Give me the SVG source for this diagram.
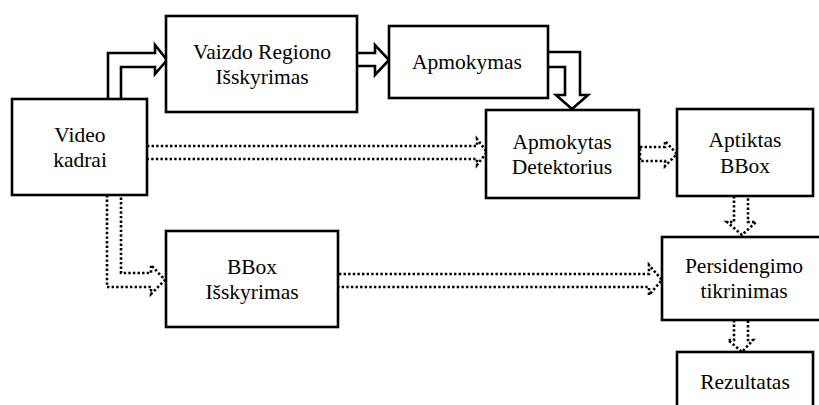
<svg xmlns="http://www.w3.org/2000/svg" width="819" height="405" viewBox="0 0 819 405">
  <style>
    .box { fill: #fff; stroke: #000; stroke-width: 2.6; }
    .lbl { font-family: 'Liberation Serif', 'Times New Roman', serif; font-size: 21.5px; fill: #000; text-anchor: middle; }
    .solid { fill: none; stroke: #000; stroke-width: 2.6; stroke-linejoin: miter; }
    .dotted { fill: none; stroke: #000; stroke-width: 2.6; stroke-dasharray: 2.4 2.2; }
  </style>
  <rect width="819" height="405" fill="#fff"/>

  <!-- block arrows between the stages -->
  <g id="connectors">
    <path class="solid" d="M108,99 V53 H155 V45 L167,60 L155,74 V67 H121 V99"/>
    <path class="solid" d="M357,53 H375 V45 L389,60 L375,75 V66 H357"/>
    <path class="solid" d="M548,52 H580 V95 H588 L572,109 L556,95 H565 V67 H548"/>
    <path class="dotted" d="M147,146 H477 V139 L487,152 L477,165 V159 H147"/>
    <path class="dotted" d="M640,147 H665 V141 L677,154 L665,166 V161 H640 Z"/>
    <path class="dotted" d="M734,196 V222 H727 L742,235 L756,222 H748 V196"/>
    <path class="dotted" d="M734,320 V340 H728 L742,352 L753,340 H748 V320"/>
    <path class="dotted" d="M107,195 V287 H151 V294 L165,280 L151,265 V273 H121 V195"/>
    <path class="dotted" d="M339,274 H649 V265 L662,280 L649,295 V287 H339"/>
  </g>

  <g id="video-kadrai">
    <rect class="box" x="12" y="99" width="135" height="96"/>
    <text class="lbl" x="80" y="142">Video</text>
    <text class="lbl" x="80" y="167">kadrai</text>
  </g>

  <g id="vaizdo-regiono">
    <rect class="box" x="166" y="16" width="191" height="96"/>
    <text class="lbl" x="262" y="59">Vaizdo Regiono</text>
    <text class="lbl" x="262" y="84">Išskyrimas</text>
  </g>

  <g id="apmokymas">
    <rect class="box" x="389" y="26" width="159" height="72"/>
    <text class="lbl" x="467" y="69">Apmokymas</text>
  </g>

  <g id="apmokytas-detektorius">
    <rect class="box" x="486" y="110" width="153" height="88"/>
    <text class="lbl" x="562" y="149">Apmokytas</text>
    <text class="lbl" x="562" y="174">Detektorius</text>
  </g>

  <g id="aptiktas-bbox">
    <rect class="box" x="677" y="109" width="136" height="87"/>
    <text class="lbl" x="745" y="147">Aptiktas</text>
    <text class="lbl" x="745" y="173">BBox</text>
  </g>

  <g id="bbox-isskyrimas">
    <rect class="box" x="166" y="231" width="172" height="96"/>
    <text class="lbl" x="252" y="274">BBox</text>
    <text class="lbl" x="252" y="299">Išskyrimas</text>
  </g>

  <g id="persidengimo-tikrinimas">
    <rect class="box" x="662" y="237" width="162" height="83"/>
    <text class="lbl" x="744" y="273">Persidengimo</text>
    <text class="lbl" x="744" y="298">tikrinimas</text>
  </g>

  <g id="rezultatas">
    <rect class="box" x="677" y="352" width="136" height="60"/>
    <text class="lbl" x="745" y="389">Rezultatas</text>
  </g>
</svg>
